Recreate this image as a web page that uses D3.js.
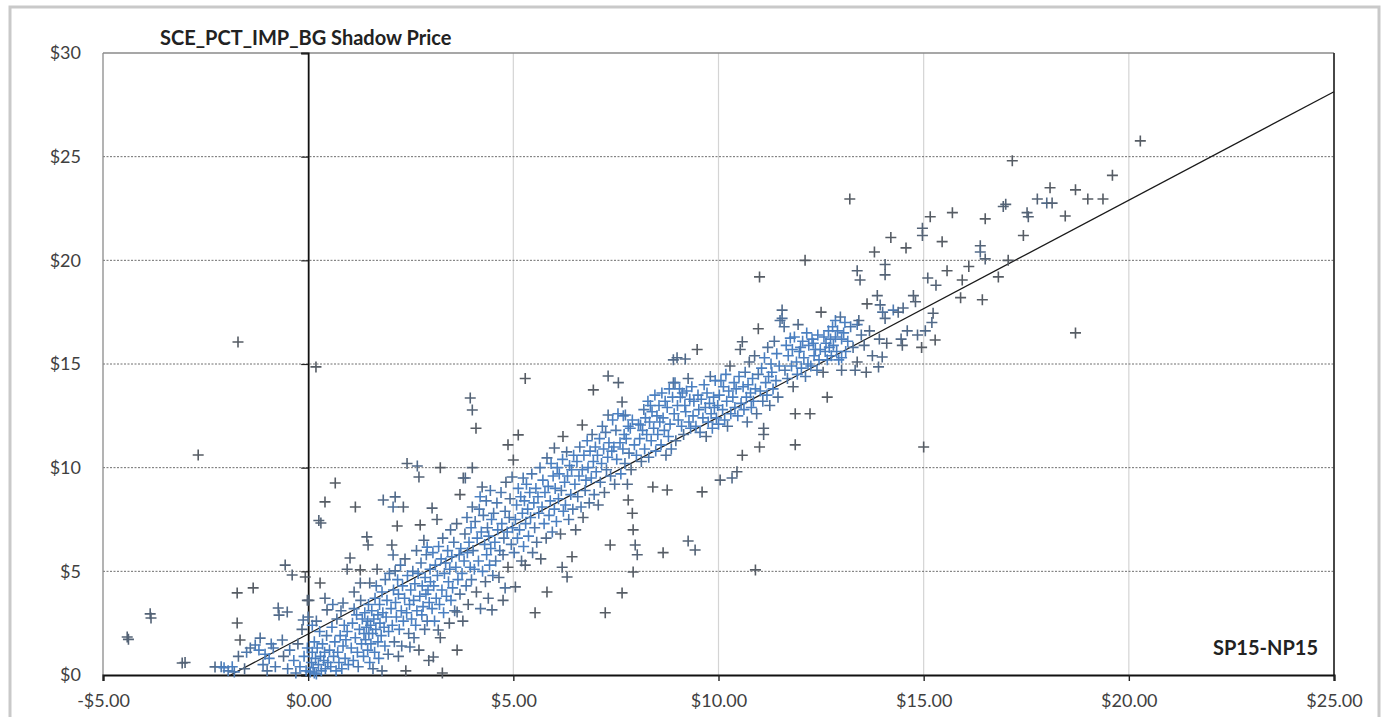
<!DOCTYPE html>
<html><head><meta charset="utf-8">
<script src="https://cdn.jsdelivr.net/npm/d3@7"></script>
<style>
html,body{margin:0;padding:0;background:#fff;}
svg{display:block;}
text{font-family:Lato,"Open Sans",sans-serif;}
</style></head>
<body>
<svg id="chart" width="1383" height="717"></svg>
<script>
const chartTitle = "SCE_PCT_IMP_BG Shadow Price";
const seriesLabel = "SP15-NP15";
const xTicks = [-5, 0, 5, 10, 15, 20, 25];
const yTicks = [0, 5, 10, 15, 20, 25, 30];
const trendX = [-1.89, 25];
const trendY = [0, 28.13];

// [SP15-NP15 spread, SCE_PCT_IMP_BG shadow price]
const points = [
[-4.41,1.83],[-4.38,1.72],[-3.85,2.95],[-3.83,2.75],[-3.07,0.58],[-3.0,0.6],[-2.68,10.61],[-2.27,0.39],[-2.12,0.4],[-2.05,0.35],
[-1.95,0.2],[-1.85,0.4],[-1.8,0.15],[-1.73,3.96],[-1.71,16.06],[-1.73,2.51],[-1.66,1.69],[-1.7,0.9],[-1.55,0.3],[-1.5,1.1],[-1.41,1.3],[-1.34,4.2],[-1.29,1.45],[-1.2,1.2],[-1.17,1.78],[-1.1,0.5],[-1.05,1.0],[-1.0,0.2],
[-0.95,0.8],[-0.9,1.5],[-0.85,1.3],[-0.8,0.4],[-0.73,3.23],[-0.71,2.89],[-0.63,1.69],[-0.6,0.9],[-0.56,5.3],[-0.51,3.04],[-0.5,0.3],[-0.45,1.2],[-0.39,4.82],[-0.35,0.7],[-0.3,0.1],[-0.25,1.5],[-0.2,0.4],[-0.15,2.2],[-0.12,2.65],[-0.1,0.9],[-0.07,4.73],[-0.05,0.2],[-0.02,3.6],[-0.02,1.3],
[0.05,0.15],[0.08,0.6],[0.1,1.1],[0.12,0.35],[0.15,1.6],[0.18,0.8],[0.2,0.05],[0.22,1.3],[0.25,0.5],[0.28,2.1],[0.3,0.9],[0.32,0.2],[0.35,1.5],[0.38,0.7],[0.4,1.1],[0.42,0.3],[0.45,1.9],[0.48,0.6],[0.0,2.8],[0.46,3.14],[0.41,3.7],[0.29,4.44],[0.31,7.33],[0.26,7.45],[0.41,8.35],[0.19,14.86],[0.02,3.6],[0.1,2.4],[0.2,2.6],[0.15,0.1],
[0.52,1.2],[0.55,0.4],[0.58,2.3],[0.6,3.4],[0.62,0.9],[0.66,9.26],[0.65,1.6],[0.68,0.2],[0.7,2.7],[0.72,1.1],[0.75,0.6],[0.78,1.9],[0.8,3.1],[0.82,0.3],[0.85,3.47],[0.85,1.4],[0.88,2.4],[0.9,0.8],[0.92,1.7],[0.95,5.1],[0.95,2.1],[0.98,0.5],
[1.02,5.64],[1.05,1.3],[1.08,2.5],[1.1,0.7],[1.12,3.2],[1.15,8.1],[1.15,1.8],[1.18,2.9],[1.2,1.1],[1.22,0.4],[1.25,2.2],[1.27,5.07],[1.27,4.44],[1.28,3.6],[1.3,1.5],[1.32,2.7],[1.35,0.9],[1.36,2.0],[1.38,3.0],[1.4,1.7],[1.42,2.3],[1.43,6.66],[1.45,2.6],[1.45,1.2],[1.46,6.27],[1.47,3.4],[1.48,2.0],[1.5,4.44],[1.5,0.6],[1.12,4.0],
[1.52,2.4],[1.53,1.5],[1.55,3.1],[1.57,2.0],[1.58,0.3],[1.6,2.7],[1.62,1.1],[1.63,3.7],[1.65,2.2],[1.66,4.3],[1.68,5.1],[1.7,1.6],[1.7,2.9],[1.72,0.8],[1.74,3.4],[1.75,2.5],[1.78,1.9],[1.8,4.0],[1.8,0.2],[1.82,3.0],[1.83,8.44],[1.85,2.3],[1.87,1.4],[1.88,4.6],[1.9,2.8],[1.92,3.6],[1.95,1.0],[1.96,2.1],[1.98,4.9],
[2.02,3.2],[2.04,6.27],[2.05,2.4],[2.07,5.79],[2.07,8.1],[2.08,4.1],[2.1,1.6],[2.12,8.59],[2.12,5.02],[2.13,3.5],[2.15,2.8],[2.17,7.19],[2.18,4.6],[2.2,0.9],[2.2,3.9],[2.22,2.2],[2.25,5.3],[2.27,3.1],[2.28,1.4],[2.3,4.3],[2.32,8.1],[2.32,2.6],[2.35,3.7],[2.36,5.6],[2.38,0.2],[2.4,3.0],[2.41,10.2],[2.42,4.8],[2.45,2.0],[2.47,3.4],[2.48,1.35],[2.5,4.1],
[2.52,2.7],[2.55,5.0],[2.57,3.6],[2.58,1.8],[2.6,4.4],[2.62,2.4],[2.64,6.0],[2.66,10.08],[2.65,3.1],[2.68,4.9],[2.7,9.55],[2.7,1.2],[2.72,3.8],[2.73,7.24],[2.75,5.4],[2.77,2.9],[2.78,4.3],[2.8,3.3],[2.82,6.5],[2.84,2.2],[2.85,4.7],[2.87,3.9],[2.88,5.8],[2.9,6.17],[2.9,2.6],[2.92,4.1],[2.94,0.7],[2.95,3.5],[2.97,5.1],[2.98,4.5],
[3.02,8.05],[3.02,3.2],[3.04,5.9],[3.05,0.87],[3.06,4.3],[3.08,2.6],[3.1,5.3],[3.12,3.7],[3.14,7.5],[3.15,4.8],[3.17,2.17],[3.18,6.2],[3.2,3.4],[3.22,10.0],[3.22,1.8],[3.24,5.6],[3.26,4.1],[3.27,0.1],[3.28,6.6],[3.3,3.0],[3.32,4.9],[3.35,5.4],[3.37,3.8],[3.4,6.0],[3.42,4.5],[3.44,2.5],[3.45,5.1],[3.47,7.0],[3.48,3.6],[3.5,5.7],
[3.52,4.2],[3.55,6.4],[3.57,3.1],[3.6,5.2],[3.62,7.3],[3.63,3.04],[3.63,1.2],[3.65,4.6],[3.68,5.8],[3.7,8.7],[3.7,3.9],[3.72,6.1],[3.75,4.9],[3.77,2.6],[3.78,9.5],[3.8,5.5],[3.82,6.8],[3.83,9.5],[3.85,4.3],[3.87,7.6],[3.88,5.9],[3.9,3.4],[3.92,6.4],[3.95,13.36],[3.95,5.2],[3.97,7.1],[4.0,12.78],[4.0,10.0],[4.0,8.1],[3.98,4.6],
[4.02,6.0],[4.05,5.1],[4.07,7.4],[4.09,11.9],[4.1,4.0],[4.12,6.6],[4.15,5.5],[4.17,8.0],[4.19,8.6],[4.2,3.2],[4.22,6.9],[4.24,9.07],[4.25,5.0],[4.27,7.7],[4.3,6.3],[4.32,4.5],[4.34,8.4],[4.35,5.8],[4.37,7.1],[4.39,3.7],[4.4,6.7],[4.42,5.3],[4.44,8.9],[4.45,6.1],[4.47,7.5],[4.48,3.14],[4.5,4.8],
[4.52,7.8],[4.55,6.4],[4.57,5.5],[4.6,8.3],[4.62,7.0],[4.65,4.7],[4.67,6.0],[4.7,8.8],[4.72,7.3],[4.75,3.6],[4.75,5.8],[4.77,6.6],[4.8,4.2],[4.8,7.9],[4.82,9.3],[4.85,6.9],[4.87,11.1],[4.87,5.2],[4.9,7.6],[4.92,8.5],[4.95,6.3],[4.97,9.55],[4.98,7.1],[5.0,10.37],
[5.02,5.9],[5.05,4.25],[5.05,7.5],[5.08,8.2],[5.1,6.6],[5.12,11.58],[5.12,9.0],[5.15,7.0],[5.18,8.6],[5.2,5.5],[5.22,7.8],[5.24,9.5],[5.25,6.2],[5.27,8.4],[5.29,14.3],[5.29,5.3],[5.3,7.3],[5.32,9.2],[5.35,8.0],[5.37,6.7],[5.4,8.8],[5.42,7.6],[5.45,9.7],[5.47,5.9],[5.5,8.3],[5.53,3.0],
[5.52,7.1],[5.55,9.0],[5.57,6.4],[5.6,8.6],[5.62,7.8],[5.65,10.0],[5.67,5.6],[5.7,8.1],[5.72,9.4],[5.75,7.3],[5.77,8.8],[5.8,6.6],[5.82,10.47],[5.82,4.0],[5.85,9.1],[5.87,7.7],[5.9,8.4],[5.92,10.2],[5.95,6.9],[5.97,9.6],[6.0,10.95],[6.0,8.0],
[6.02,9.0],[6.05,7.4],[6.07,10.0],[6.1,8.5],[6.12,9.7],[6.15,6.8],[6.17,8.9],[6.19,5.2],[6.2,10.4],[6.21,11.5],[6.22,7.9],[6.25,9.3],[6.27,8.2],[6.3,10.76],[6.31,4.73],[6.32,9.6],[6.35,7.5],[6.37,10.1],[6.4,8.7],[6.42,9.9],[6.43,5.7],[6.45,8.0],[6.47,10.6],[6.5,9.2],
[6.52,7.0],[6.55,10.3],[6.57,8.6],[6.6,9.6],[6.62,11.0],[6.65,8.1],[6.68,12.06],[6.68,9.9],[6.7,7.6],[6.72,10.6],[6.75,8.9],[6.77,9.4],[6.8,11.3],[6.82,10.0],[6.85,8.3],[6.87,10.8],[6.9,9.5],[6.92,11.6],[6.95,13.75],[6.95,10.3],[6.97,8.7],[7.0,11.0],
[7.02,9.8],[7.05,10.6],[7.07,8.2],[7.1,11.4],[7.12,9.3],[7.15,10.2],[7.17,12.0],[7.2,10.9],[7.22,8.8],[7.24,3.0],[7.25,11.7],[7.27,9.9],[7.3,10.5],[7.31,14.42],[7.31,12.54],[7.33,11.2],[7.36,6.27],[7.37,9.6],[7.4,10.8],[7.42,12.3],[7.45,11.0],[7.47,9.2],[7.5,11.8],
[7.52,10.4],[7.55,12.6],[7.56,14.1],[7.6,11.2],[7.62,9.7],[7.65,13.17],[7.65,3.96],[7.67,10.9],[7.68,12.5],[7.7,11.6],[7.72,10.2],[7.73,12.54],[7.75,11.4],[7.78,9.2],[7.8,8.44],[7.8,12.0],[7.82,10.7],[7.85,11.9],[7.87,9.9],[7.9,7.8],[7.9,12.3],[7.92,7.0],[7.92,4.97],[7.95,11.1],[7.97,6.27],[8.0,10.6],[8.02,5.8],
[8.05,12.1],[8.08,11.4],[8.1,12.06],[8.12,10.3],[8.15,11.8],[8.18,12.8],[8.2,10.9],[8.22,12.4],[8.25,11.6],[8.28,13.2],[8.3,10.5],[8.32,12.2],[8.34,13.0],[8.36,11.3],[8.38,12.7],[8.4,9.07],[8.42,11.9],[8.45,13.5],[8.47,10.8],[8.5,12.5],
[8.52,11.6],[8.55,13.0],[8.57,12.2],[8.6,11.1],[8.62,13.6],[8.65,5.9],[8.65,12.4],[8.68,11.8],[8.7,13.2],[8.72,10.6],[8.75,8.92],[8.75,12.9],[8.78,11.5],[8.8,13.8],[8.82,12.1],[8.85,10.9],[8.88,13.4],[8.9,15.2],[8.9,14.1],[8.92,12.6],[8.94,14.1],[8.96,11.3],[8.99,15.3],[9.0,13.0],
[9.02,12.3],[9.05,13.8],[9.07,13.4],[9.1,12.0],[9.12,13.6],[9.15,11.6],[9.18,13.0],[9.19,15.24],[9.2,12.7],[9.22,13.7],[9.26,14.3],[9.26,6.46],[9.28,12.2],[9.3,13.3],[9.32,11.9],[9.35,13.9],[9.38,12.5],[9.4,13.2],[9.43,6.03],[9.45,12.0],[9.48,15.7],[9.5,13.5],
[9.52,12.8],[9.55,11.7],[9.58,13.3],[9.6,8.83],[9.62,12.4],[9.65,14.0],[9.68,12.9],[9.7,11.5],[9.72,13.6],[9.75,12.2],[9.78,13.1],[9.8,14.4],[9.82,12.6],[9.85,11.9],[9.88,13.4],[9.9,12.9],[9.92,14.2],[9.95,12.4],[9.98,13.0],[10.0,12.1],
[10.02,13.5],[10.04,9.4],[10.06,14.2],[10.1,12.8],[10.12,13.9],[10.15,12.3],[10.18,14.5],[10.2,13.2],[10.22,12.0],[10.25,13.7],[10.28,14.9],[10.3,12.6],[10.33,9.5],[10.35,13.4],[10.38,14.1],[10.4,12.9],[10.43,13.8],[10.45,9.8],[10.47,12.5],[10.5,14.4],
[10.53,15.7],[10.55,13.1],[10.58,16.07],[10.58,10.6],[10.6,13.9],[10.62,12.8],[10.65,14.6],[10.68,13.4],[10.7,12.2],[10.72,14.0],[10.75,15.1],[10.78,13.6],[10.8,12.9],[10.83,14.3],[10.85,13.2],[10.88,15.4],[10.9,5.07],[10.9,13.8],[10.93,12.6],[10.97,16.7],[10.97,14.5],[11.0,19.2],[11.0,11.0],
[11.02,13.7],[11.05,14.8],[11.08,13.2],[11.1,11.9],[11.1,11.6],[11.12,15.3],[11.15,14.1],[11.18,13.5],[11.2,15.8],[11.22,14.4],[11.25,13.0],[11.28,15.0],[11.3,14.6],[11.33,13.8],[11.36,16.1],[11.4,14.2],[11.42,15.5],[11.45,13.4],[11.5,17.1],[11.48,14.9],
[11.55,17.6],[11.55,17.2],[11.6,16.8],[11.62,14.7],[11.65,15.9],[11.68,14.3],[11.7,15.4],[11.75,16.25],[11.78,14.9],[11.8,15.7],[11.82,13.9],[11.85,16.3],[11.87,11.1],[11.87,12.6],[11.9,15.1],[11.92,14.5],[11.94,16.9],[11.97,15.6],[12.0,15.8],
[12.02,14.8],[12.05,16.1],[12.08,15.3],[12.11,20.0],[12.12,14.4],[12.15,16.5],[12.18,15.0],[12.2,15.9],[12.23,12.6],[12.25,14.9],[12.28,16.2],[12.31,16.0],[12.33,15.4],[12.36,15.7],[12.4,14.7],[12.42,16.4],[12.45,15.2],[12.48,15.7],[12.5,17.5],
[12.55,14.6],[12.57,16.3],[12.6,15.6],[12.62,16.0],[12.65,13.4],[12.65,15.2],[12.68,16.6],[12.7,15.8],[12.73,16.2],[12.75,15.4],[12.78,16.8],[12.8,15.9],[12.85,17.1],[12.85,16.3],[12.88,15.6],[12.9,16.6],[12.93,15.2],[12.97,17.27],[13.0,16.2],[13.0,15.3],[13.0,14.7],
[13.05,16.5],[13.08,17.0],[13.1,15.6],[13.15,16.1],[13.2,22.96],[13.22,16.8],[13.28,15.8],[13.33,14.7],[13.38,19.5],[13.38,16.9],[13.38,15.1],[13.42,17.1],[13.45,19.05],[13.48,16.4],
[13.55,15.9],[13.6,14.6],[13.62,17.9],[13.68,16.6],[13.75,15.4],[13.8,20.4],[13.87,18.3],[13.9,14.86],[13.92,16.2],[13.94,17.85],[13.99,15.34],[14.0,17.5],
[14.06,19.8],[14.06,19.3],[14.06,17.2],[14.1,16.0],[14.2,21.1],[14.26,17.6],[14.38,17.5],[14.45,16.2],[14.5,17.7],[14.48,15.9],
[14.57,20.6],[14.6,16.6],[14.75,18.3],[14.8,18.0],[14.85,16.4],[14.97,21.55],[14.97,21.2],[15.0,11.0],[14.95,15.8],
[15.04,16.6],[15.1,19.15],[15.16,22.1],[15.2,17.0],[15.23,17.45],[15.28,16.16],[15.3,18.8],[15.45,20.9],
[15.57,19.5],[15.7,22.3],[15.9,18.2],[15.94,19.05],[16.1,19.7],[16.38,20.7],[16.38,20.4],[16.43,18.1],[16.5,22.0],[16.5,20.07],
[16.82,19.2],[16.94,22.6],[17.0,22.7],[17.06,20.0],[17.16,24.8],[17.43,21.2],[17.52,22.3],[17.55,22.1],[17.77,22.96],[18.0,22.76],[18.08,23.5],[18.13,22.76],[18.45,22.14],[18.7,23.4],[18.7,16.5],[19.0,22.96],[19.37,22.96],[19.6,24.1],[20.28,25.76]
];

const svg = d3.select("#chart");
const plot = {left: 103, right: 1334, top: 53, bottom: 675};

// outer frame
svg.append("rect").attr("x", 10).attr("y", 7).attr("width", 1369).attr("height", 730)
  .attr("fill", "#fff").attr("stroke", "#c9c9c9").attr("stroke-width", 3);

const x = d3.scaleLinear().domain([-5, 25]).range([plot.left, plot.right]);
const y = d3.scaleLinear().domain([0, 30]).range([plot.bottom, plot.top]);

// vertical gridlines
svg.append("g").selectAll("line").data(xTicks.filter(v => v > 0 && v < 25)).join("line")
  .attr("x1", d => x(d)).attr("x2", d => x(d)).attr("y1", plot.top).attr("y2", plot.bottom)
  .attr("stroke", "#d4d4d4").attr("stroke-width", 1.2);

// horizontal gridlines
svg.append("g").selectAll("line").data(yTicks.filter(v => v > 0 && v < 30)).join("line")
  .attr("x1", plot.left).attr("x2", plot.right).attr("y1", d => y(d)).attr("y2", d => y(d))
  .attr("stroke", "#6e6e6e").attr("stroke-width", 1).attr("stroke-dasharray", "2,1.5");

// plot border
svg.append("line").attr("x1", plot.left).attr("x2", plot.right).attr("y1", plot.top).attr("y2", plot.top)
  .attr("stroke", "#8a8a8a").attr("stroke-width", 1.3);
svg.append("line").attr("x1", plot.left).attr("x2", plot.left).attr("y1", plot.top).attr("y2", plot.bottom)
  .attr("stroke", "#8a8a8a").attr("stroke-width", 1.3);
svg.append("line").attr("x1", plot.right).attr("x2", plot.right).attr("y1", plot.top).attr("y2", plot.bottom)
  .attr("stroke", "#333").attr("stroke-width", 1.8);

// y axis at x = 0
const yAxis = d3.axisLeft(y).tickValues(yTicks).tickSize(7).tickFormat("");
const gy = svg.append("g").attr("transform", `translate(${x(0)},0)`).call(yAxis);
gy.select(".domain").attr("stroke", "#111").attr("stroke-width", 1.8);
gy.selectAll(".tick line").attr("stroke", "#222").attr("stroke-width", 1.2);

// y tick labels on left
const yLab = d3.axisLeft(y).tickValues(yTicks).tickSize(0).tickPadding(0).tickFormat(d => "$" + d);
const gyl = svg.append("g").attr("transform", `translate(81,0)`).call(yLab);
gyl.select(".domain").remove();
gyl.selectAll("text").attr("font-size", 18).attr("fill", "#404040").attr("font-family", "Lato, 'Open Sans', sans-serif");

// x axis at y = 0
const fmtX = d => (d < 0 ? "-$" : "$") + Math.abs(d).toFixed(2);
const xAxis = d3.axisBottom(x).tickValues(xTicks).tickSize(6).tickPadding(13).tickFormat(fmtX);
const gx = svg.append("g").attr("transform", `translate(0,${plot.bottom})`).call(xAxis);
gx.select(".domain").attr("stroke", "#111").attr("stroke-width", 2.2);
gx.selectAll(".tick line").attr("stroke", "#222").attr("stroke-width", 1.4);
gx.selectAll("text").attr("font-size", 18).attr("fill", "#404040").attr("font-family", "Lato, 'Open Sans', sans-serif");

// trendline
svg.append("line")
  .attr("x1", x(trendX[0])).attr("y1", y(trendY[0]))
  .attr("x2", x(trendX[1])).attr("y2", y(trendY[1]))
  .attr("stroke", "#1a1a1a").attr("stroke-width", 1.3);

// markers, colour by local density (dense clusters look blue, lone marks look dark)
const px = points.map(p => [x(p[0]), y(p[1])]);
const counts = px.map((a, i) => {
  let c = 0;
  for (let j = 0; j < px.length; j++) {
    if (j === i) continue;
    const dx = a[0] - px[j][0], dy = a[1] - px[j][1];
    if (dx * dx + dy * dy < 13 * 13) c++;
  }
  return c;
});
const col = d3.interpolateRgb("#565c64", "#4a7fc0");
svg.append("g").selectAll("path").data(points).join("path")
  .attr("transform", d => `translate(${x(d[0])},${y(d[1])})`)
  .attr("d", "M-5.5,0H5.5M0,-5.5V5.5")
  .attr("fill", "none")
  .attr("stroke", (d, i) => col(Math.min(counts[i] / 5, 1)))
  .attr("stroke-width", 1.6);

// labels
svg.append("text").attr("x", 160).attr("y", 45).attr("font-size", 20).attr("font-weight", "bold")
  .attr("fill", "#222").text(chartTitle);
svg.append("text").attr("x", 1318).attr("y", 655).attr("text-anchor", "end").attr("font-size", 20)
  .attr("font-weight", "bold").attr("fill", "#222").text(seriesLabel);
</script>
</body></html>
